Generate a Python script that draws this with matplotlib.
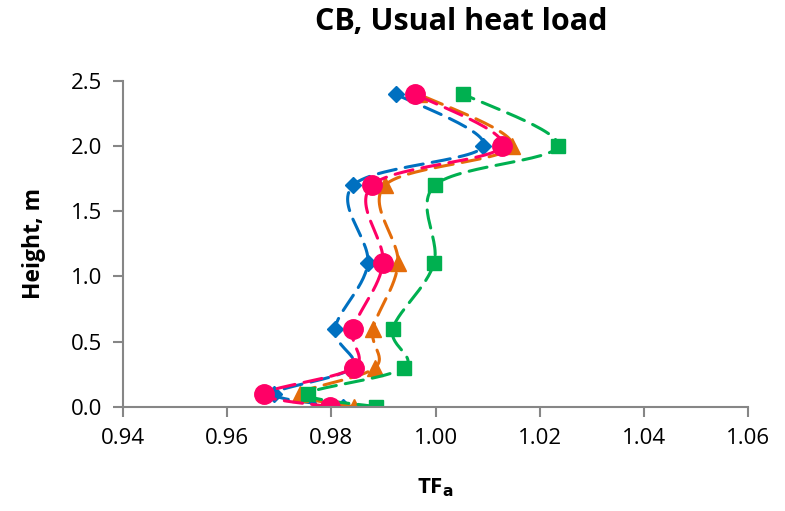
import numpy as np
import matplotlib.pyplot as plt

height = [0.0, 0.1, 0.3, 0.6, 1.1, 1.7, 2.0, 2.4]

# TF_a values for each series (bottom to top)
tf_blue = [0.9822, 0.9690, 0.9840, 0.9807, 0.9870, 0.9842, 1.0092, 0.9924]
tf_orange = [0.9843, 0.9740, 0.9884, 0.9880, 0.9928, 0.9903, 1.0147, 0.9968]
tf_green = [0.9886, 0.9755, 0.9940, 0.9918, 0.9997, 0.9999, 1.0235, 1.0053]
tf_pink = [0.9797, 0.9671, 0.9843, 0.9842, 0.9899, 0.9878, 1.0128, 0.9961]


def smooth(x, y, n=30):
    # Catmull-Rom style smoothing, like Excel's smoothed scatter lines
    x = np.asarray(x, float)
    y = np.asarray(y, float)
    px = np.concatenate([[x[0]], x, [x[-1]]])
    py = np.concatenate([[y[0]], y, [y[-1]]])
    xs, ys = [], []
    t = np.linspace(0, 1, n)
    for i in range(1, len(px) - 2):
        p0, p1, p2, p3 = px[i - 1], px[i], px[i + 1], px[i + 2]
        q0, q1, q2, q3 = py[i - 1], py[i], py[i + 1], py[i + 2]
        c1x, c1y = p1 + (p2 - p0) / 6, q1 + (q2 - q0) / 6
        c2x, c2y = p2 - (p3 - p1) / 6, q2 - (q3 - q1) / 6
        bx = (1 - t) ** 3 * p1 + 3 * (1 - t) ** 2 * t * c1x + 3 * (1 - t) * t ** 2 * c2x + t ** 3 * p2
        by = (1 - t) ** 3 * q1 + 3 * (1 - t) ** 2 * t * c1y + 3 * (1 - t) * t ** 2 * c2y + t ** 3 * q2
        xs.extend(bx)
        ys.extend(by)
    return xs, ys


plt.rcParams['font.family'] = ['Open Sans', 'DejaVu Sans']

fig = plt.figure(figsize=(7.85, 5.11), dpi=100)
ax = fig.add_axes([0.1567, 0.2041, 0.7962, 0.6374])

series = [
    (tf_blue, '#0070C0', 'D', 8.5),
    (tf_orange, '#E46C0A', '^', 11),
    (tf_green, '#00B050', 's', 9.5),
    (tf_pink, '#FF0066', 'o', 14),
]
for vals, col, mk, ms in series:
    sx, sy = smooth(vals, height)
    ax.plot(sx, sy, color=col, lw=2.2, dashes=(6, 3), dash_capstyle='round')
    ax.plot(vals, height, ls='none', marker=mk, color=col, ms=ms, mec=col)

ax.set_xlim(0.94, 1.06)
ax.set_ylim(0.0, 2.5)
ax.set_xticks(np.arange(0.94, 1.0601, 0.02))
ax.set_yticks(np.arange(0.0, 2.501, 0.5))
ax.xaxis.set_major_formatter(plt.FormatStrFormatter('%.2f'))
ax.yaxis.set_major_formatter(plt.FormatStrFormatter('%.1f'))

for s in ['top', 'right']:
    ax.spines[s].set_visible(False)
for s in ['left', 'bottom']:
    ax.spines[s].set_color('#868686')
    ax.spines[s].set_linewidth(1.5)
ax.tick_params(direction='out', length=7, width=1.5, color='#868686', labelsize=16, pad=8)

fig.text(0.588, 0.957, 'CB, Usual heat load', fontsize=22, fontweight='bold',
         ha='center', va='center')
ax.set_xlabel('TF$_\\mathbf{a}$', fontsize=16, fontweight='bold', labelpad=20)
ax.set_ylabel('Height, m', fontsize=16.5, fontweight='bold', labelpad=18)

fig.savefig('out.png', dpi=100)
